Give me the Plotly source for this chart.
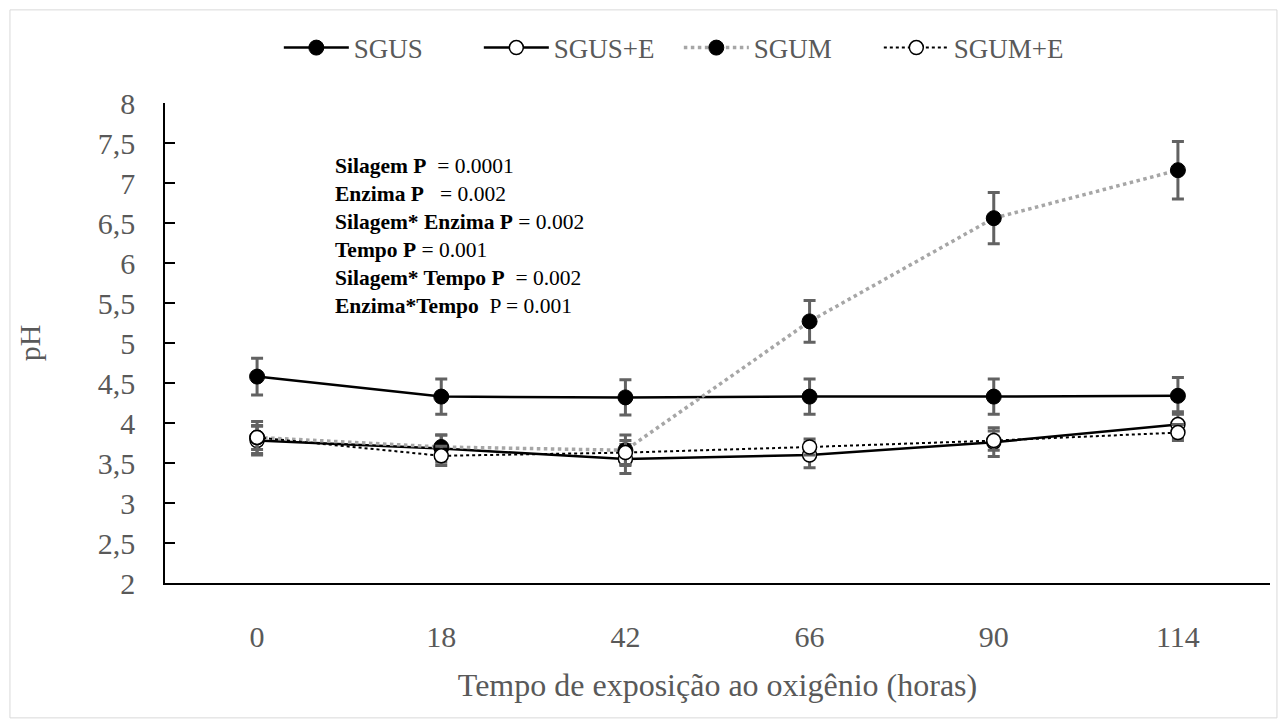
import plotly.graph_objects as go

categories = ["0", "18", "42", "66", "90", "114"]

sgus = [4.58, 4.33, 4.32, 4.33, 4.33, 4.34]
sgus_err = [0.23, 0.22, 0.22, 0.22, 0.22, 0.23]

sgus_e = [3.78, 3.68, 3.55, 3.60, 3.76, 3.98]
sgus_e_err = [0.18, 0.17, 0.18, 0.16, 0.18, 0.16]

sgum = [3.82, 3.70, 3.66, 5.27, 6.56, 7.16]
sgum_err = [0.20, 0.15, 0.19, 0.26, 0.32, 0.36]

sgum_e = [3.82, 3.59, 3.63, 3.70, 3.78, 3.88]
sgum_e_err = [0.15, 0.12, 0.15, 0.10, 0.12, 0.10]

stats_labels = ["Silagem P", "Enzima P", "Silagem* Enzima P", "Tempo P", "Silagem* Tempo P", "Enzima*Tempo"]
stats_values = ["  = 0.0001", "   = 0.002", " = 0.002", " = 0.001", "  = 0.002", "  P = 0.001"]

FONT = "Liberation Serif"
GREY = "#595959"
ERR = "#626262"

def err(vals):
    return dict(type="data", array=vals, visible=True, color=ERR, thickness=3, width=6)

fig = go.Figure()
fig.add_trace(go.Scatter(
    x=categories, y=sgus, name="SGUS", mode="lines+markers",
    line=dict(color="black", width=2.5),
    marker=dict(symbol="circle", size=15, color="black", line=dict(color="black", width=1)),
    error_y=err(sgus_err)))
fig.add_trace(go.Scatter(
    x=categories, y=sgus_e, name="SGUS+E", mode="lines+markers",
    line=dict(color="black", width=2.5),
    marker=dict(symbol="circle", size=14, color="white", line=dict(color="black", width=1.5)),
    error_y=err(sgus_e_err)))
fig.add_trace(go.Scatter(
    x=categories, y=sgum, name="SGUM", mode="lines+markers",
    line=dict(color="#a6a6a6", width=3.5, dash="dot"),
    marker=dict(symbol="circle", size=15, color="black", line=dict(color="black", width=1)),
    error_y=err(sgum_err)))
fig.add_trace(go.Scatter(
    x=categories, y=sgum_e, name="SGUM+E", mode="lines+markers",
    line=dict(color="black", width=2, dash="dot"),
    marker=dict(symbol="circle", size=14, color="white", line=dict(color="black", width=1.5)),
    error_y=err(sgum_e_err)))

text = "<br>".join(f"<b>{l}</b>{v.replace('  ', ' &nbsp;')}" for l, v in zip(stats_labels, stats_values))
fig.add_annotation(
    text=text, xref="paper", yref="paper", x=0.152, y=0.898,
    xanchor="left", yanchor="top", align="left", showarrow=False,
    font=dict(family=FONT, size=21.5, color="black"))

# outer chart border
fig.add_shape(type="rect", xref="paper", yref="paper",
              x0=-0.1403, x1=1.0063, y0=-0.281, y1=1.194,
              line=dict(color="#d9d9d9", width=1), layer="below")

fig.update_layout(
    width=1288, height=728,
    margin=dict(l=165, r=18, t=103, b=145, autoexpand=False),
    paper_bgcolor="white", plot_bgcolor="white",
    separators=",.",
    font=dict(family=FONT, color=GREY),
    showlegend=True,
    legend=dict(orientation="h", x=0.465, xanchor="center",
                yref="container", y=0.934, yanchor="middle",
                font=dict(family=FONT, size=27, color=GREY),
                itemwidth=65, entrywidth=120, bgcolor="rgba(0,0,0,0)"),
    xaxis=dict(
        type="category", range=[-0.5, 5.5], showline=True, linecolor="black", linewidth=1.5,
        showgrid=False, zeroline=False, ticks="", ticklabelstandoff=26,
        tickfont=dict(family=FONT, size=30, color=GREY),
        title=dict(text="Tempo de exposição ao oxigênio (horas)",
                   font=dict(family=FONT, size=32, color=GREY), standoff=22),
    ),
    yaxis=dict(
        range=[2, 8], dtick=0.5, tick0=2, showline=True, linecolor="black", linewidth=1.5,
        showgrid=False, zeroline=False, ticks="inside", ticklen=10, tickcolor="black", tickwidth=1.5,
        ticklabelstandoff=22,
        tickfont=dict(family=FONT, size=30, color=GREY),
        title=dict(text="pH", font=dict(family=FONT, size=30, color=GREY), standoff=48),
    ),
)

fig.write_html("out.html", config={"displayModeBar": False},
               post_script="document.body.style.margin='0px';")
